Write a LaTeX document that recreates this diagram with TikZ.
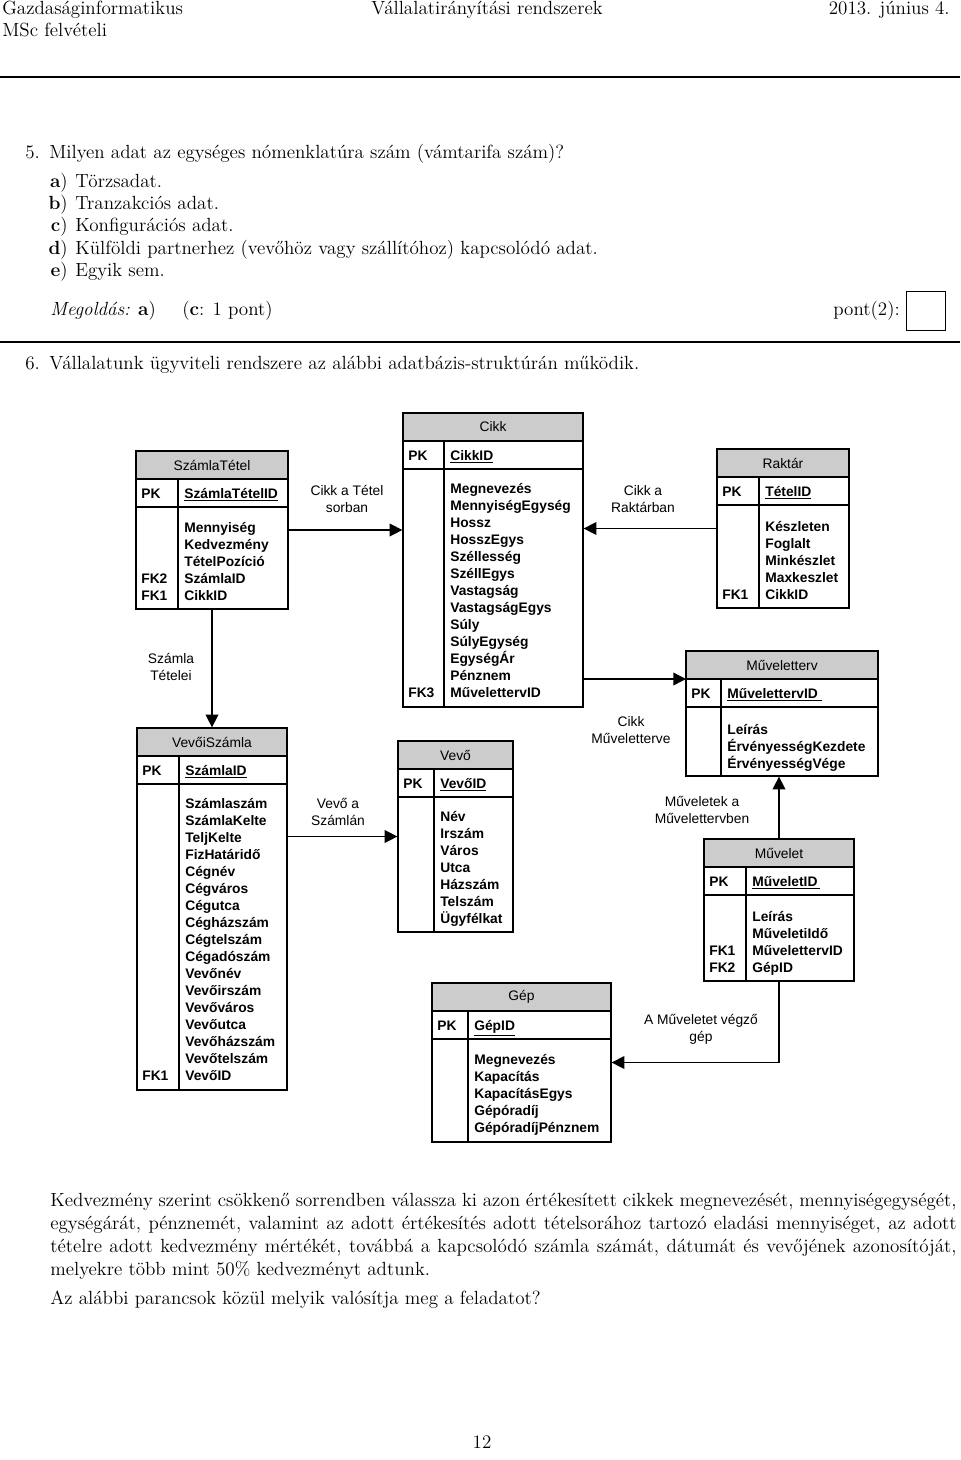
\documentclass[tikz,border=0pt]{standalone}
\usepackage{fontspec}
\newfontfamily\arial{Liberation Sans}
\usetikzlibrary{positioning,fit,arrows.meta}

\definecolor{titlegray}{RGB}{204,204,204}

\tikzset{
  page/.style={anchor=base west, inner sep=0pt, font=\fontsize{12}{14.5}\selectfont},
  entbox/.style={draw, inner sep=0pt, line width=0.8pt},
  enttitle/.style={inner sep=0pt, font=\arial\fontsize{8.7}{10.7}\selectfont},
  fld/.style={anchor=base west, inner sep=0pt, font=\arial\bfseries\fontsize{8.7}{10.7}\selectfont},
  rellabel/.style={align=center, inner sep=0pt, font=\arial\fontsize{8.7}{10.7}\selectfont},
  rel/.style={line width=0.9pt, -{Triangle[length=8pt,width=8pt]}}
}

% name, title, left, top, right, bottom, divider, key
\newcommand{\entity}[8]{%
  \fill[titlegray] (#3,#4) rectangle (#5,#4+28);
  \draw[line width=0.8pt] (#3,#4+28) -- (#5,#4+28) (#3,#4+56) -- (#5,#4+56) (#7,#4+28) -- (#7,#6);
  \node[entbox, fit={(#3,#4) (#5,#6)}] (#1) {};
  \coordinate (#1-tb) at (#3,#4+28);
  \node[enttitle] (#1-t) at ({(#3+#5)/2},#4+14) {#2};
  \node[fld] (#1-pk) at (#3+5,#4+47) {PK};
  \node[fld] (#1-key) at (#7+6,#4+47) {\underline{#8}};
}

\begin{document}
\begin{tikzpicture}[x=0.63pt, y=-0.63pt]
\useasboundingbox (0,0) rectangle (960,1460);

% page head
\node[page] (head1) at (2,15) {Gazdaságinformatikus};
\node[page] (head2) at (2,37) {MSc felvételi};
\node[page, anchor=base] (head3) at (487,15) {Vállalatirányítási rendszerek};
\node[page, anchor=base east] (head4) at (950,15) {2013. június 4.};
\draw[line width=0.9pt] (0,77) -- (960,77);

% question 5
\node[page] (q5n) at (25,158) {5.};
\node[page] (q5) at (49,158) {Milyen adat az egységes nómenklatúra szám (vámtarifa szám)?};
\foreach \l/\t [count=\i] in {a/Törzsadat., b/Tranzakciós adat., c/Konfigurációs adat.,
    d/Külföldi partnerhez (vevőhöz vagy szállítóhoz) kapcsolódó adat., e/Egyik sem.}
{
  \node[page, anchor=base east] (opt\i-l) at (68,165+22.3*\i) {\textbf{\l})};
  \node[page] (opt\i) at (75,165+22.3*\i) {\t};
}
\node[page] (sol) at (50,315) {\textit{Megoldás:} \textbf{a})};
\node[page] (solpt) at (182,315) {(\textbf{c}: 1 pont)};
\node[page, anchor=base east] (pont) at (900,315) {pont(2):};
\node[draw, line width=0.6pt, minimum width=25pt, minimum height=24pt, inner sep=0pt] (ptbox) at (926,311) {};
\draw[line width=0.9pt] (0,342) -- (960,342);

% question 6
\node[page] (q6n) at (25,369) {6.};
\node[page] (q6) at (49,369) {Vállalatunk ügyviteli rendszere az alábbi adatbázis-struktúrán működik.};

% tables
\entity{stetel}{SzámlaTétel}{136}{451}{288}{609}{178}{SzámlaTételID}
\foreach \f [count=\i from 0] in {Mennyiség,Kedvezmény,TételPozíció,SzámlaID,CikkID}
  \node[fld] (stetel-f\i) at (184,532+17*\i) {\f};
\node[fld] (stetel-fk2) at (141,532+17*3) {FK2};
\node[fld] (stetel-fk1) at (141,532+17*4) {FK1};

\entity{cikk}{Cikk}{403}{413}{583}{707}{444}{CikkID}
\foreach \f [count=\i from 0] in {Megnevezés,MennyiségEgység,Hossz,HosszEgys,Széllesség,SzéllEgys,
    Vastagság,VastagságEgys,Súly,SúlyEgység,EgységÁr,Pénznem,MűvelettervID}
  \node[fld] (cikk-f\i) at (450,493+17*\i) {\f};
\node[fld] (cikk-fk3) at (408,493+17*12) {FK3};

\entity{raktar}{Raktár}{717}{449}{849}{608}{759}{TételID}
\foreach \f [count=\i from 0] in {Készleten,Foglalt,Minkészlet,Maxkeszlet,CikkID}
  \node[fld] (raktar-f\i) at (765,531+17*\i) {\f};
\node[fld] (raktar-fk1) at (722,531+17*4) {FK1};

\entity{mterv}{Műveletterv}{686}{651}{878}{776}{721}{MűvelettervID\ }
\foreach \f [count=\i from 0] in {Leírás,ÉrvényességKezdete,ÉrvényességVége}
  \node[fld] (mterv-f\i) at (727,734+17*\i) {\f};

\entity{muvelet}{Művelet}{704}{839}{854}{981}{746}{MűveletID\,}
\foreach \f [count=\i from 0] in {Leírás,MűveletiIdő,MűvelettervID,GépID}
  \node[fld] (muvelet-f\i) at (752,921+17*\i) {\f};
\node[fld] (muvelet-fk1) at (709,921+17*2) {FK1};
\node[fld] (muvelet-fk2) at (709,921+17*3) {FK2};

\entity{gep}{Gép}{432}{983}{611}{1142}{468}{GépID}
\foreach \f [count=\i from 0] in {Megnevezés,Kapacítás,KapacításEgys,Gépóradíj,GépóradíjPénznem}
  \node[fld] (gep-f\i) at (474,1064+17*\i) {\f};

\entity{vevo}{Vevő}{398}{741}{513}{932}{434}{VevőID}
\foreach \f [count=\i from 0] in {Név,Irszám,Város,Utca,Házszám,Telszám,Ügyfélkat}
  \node[fld] (vevo-f\i) at (440,821+17*\i) {\f};

\entity{vszamla}{VevőiSzámla}{137}{728}{287}{1090}{179}{SzámlaID}
\foreach \f [count=\i from 0] in {Számlaszám,SzámlaKelte,TeljKelte,FizHatáridő,Cégnév,Cégváros,
    Cégutca,Cégházszám,Cégtelszám,Cégadószám,Vevőnév,Vevőirszám,Vevőváros,Vevőutca,
    Vevőházszám,Vevőtelszám,VevőID}
  \node[fld] (vszamla-f\i) at (185,808+17*\i) {\f};
\node[fld] (vszamla-fk1) at (142,808+17*16) {FK1};

% relations
\draw[rel] (stetel.east) -- (stetel.east -| cikk.west);
\draw[rel] (raktar.west) -- (raktar.west -| cikk.east);
\draw[rel] (stetel.south) -- (vszamla.north);
\draw[rel] (mterv-tb -| cikk.east) -- (mterv-tb);
\draw[rel] (vevo.west -| vszamla.east) -- (vevo.west);
\draw[rel] (muvelet.north) -- (muvelet.north |- mterv.south);
\draw[rel] (muvelet.south) |- (gep.east);

\node[rellabel] (l-tetel) at (347,499) {Cikk a Tétel\\sorban};
\node[rellabel] (l-szamla) at (171,667) {Számla\\Tételei};
\node[rellabel] (l-raktar) at (643,499) {Cikk a\\Raktárban};
\node[rellabel] (l-cmterv) at (631,730) {Cikk\\Műveletterve};
\node[rellabel] (l-mmterv) at (702,810) {Műveletek a\\Művelettervben};
\node[rellabel] (l-gep) at (701,1029) {A Műveletet végző\\gép};
\node[rellabel] (l-vevo) at (338,812) {Vevő a\\Számlán};

% task text
\node[page] (t1) at (50,1206) {\makebox[571pt][s]{Kedvezmény szerint csökkenő sorrendben válassza ki azon értékesített cikkek megnevezését, mennyiségegységét,}};
\node[page] (t2) at (50,1229) {\makebox[571pt][s]{egységárát, pénznemét, valamint az adott értékesítés adott tételsorához tartozó eladási mennyiséget, az adott}};
\node[page] (t3) at (50,1252) {\makebox[571pt][s]{tételre adott kedvezmény mértékét, továbbá a kapcsolódó számla számát, dátumát és vevőjének azonosítóját,}};
\node[page] (t4) at (50,1275) {melyekre több mint 50\% kedvezményt adtunk.};
\node[page] (t5) at (50,1304) {Az alábbi parancsok közül melyik valósítja meg a feladatot?};

\node[page, anchor=base] (pageno) at (482,1448) {12};
\end{tikzpicture}
\end{document}
